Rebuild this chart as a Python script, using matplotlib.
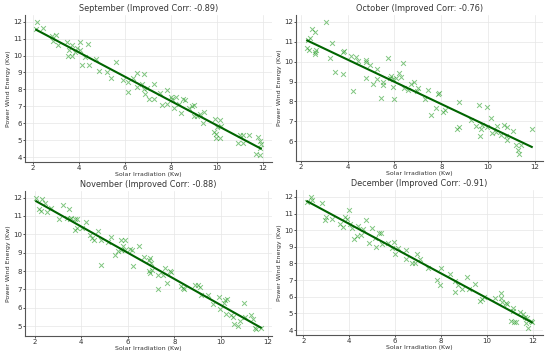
import numpy as np
import matplotlib
matplotlib.use("Agg")
import matplotlib.pyplot as plt

months = ["September", "October", "November", "December"]
corr_labels = ["-0.89", "-0.76", "-0.88", "-0.91"]

sep_x = [2.19, 2.16, 2.46, 2.83, 3.02, 2.9, 3.12, 3.5, 3.6, 3.7, 3.91, 4.08, 4.4, 3.55, 3.73, 3.84, 4.06,
         4.13, 4.45, 4.27, 4.77, 4.9, 5.22, 5.4, 5.64, 5.93, 6.12, 6.12, 6.36, 6.53, 6.55, 6.83, 6.75, 6.82,
         6.89, 6.96, 7.03, 7.25, 7.26, 7.55, 7.61, 7.83, 7.83, 7.99, 8.04, 8.13, 8.23, 8.37, 8.46, 8.51,
         8.63, 8.8, 8.92, 9.02, 8.99, 9.13, 9.28, 9.45, 9.4, 9.9, 10.13, 9.88, 9.95, 10.02, 9.95, 10.13,
         10.17, 10.9, 11.12, 11.12, 11.4, 11.7, 11.77, 11.85, 11.88, 11.86, 11.9, 11.0]
sep_y = [12.0, 11.55, 11.65, 11.15, 11.2, 10.85, 10.6, 10.8, 10.35, 10.6, 10.45, 10.8, 10.7, 9.98, 9.98, 10.2,
         10.3, 9.45, 9.45, 9.9, 9.8, 9.1, 9.0, 8.65, 9.6, 8.55, 8.45, 7.85, 8.65, 8.15, 8.95, 8.9, 8.3, 8.0,
         7.7, 8.1, 7.4, 7.4, 8.3, 7.8, 7.05, 7.95, 7.15, 7.55, 7.4, 6.9, 7.55, 7.15, 6.6, 7.4,
         7.35, 6.9, 7.0, 7.05, 6.4, 6.4, 6.55, 6.65, 6.0, 6.25, 6.2, 5.45, 5.35, 5.75, 5.15, 5.15,
         5.85, 4.85, 4.85, 5.3, 5.3, 4.15, 5.2, 4.95, 4.55, 4.1, 4.75, 5.3]

oct_x = [2.3, 2.28, 2.37, 2.4, 2.5, 2.6, 2.6, 2.63, 2.67, 3.08, 3.32, 3.25, 3.46, 3.81, 3.85, 3.81, 4.14,
         4.22, 4.38, 4.45, 4.77, 4.8, 4.77, 4.97, 5.09, 5.27, 5.26, 5.44, 5.51, 5.51, 5.72, 5.8, 5.87, 5.94,
         6.0, 5.94, 6.08, 6.2, 6.3, 6.36, 6.43, 6.57, 6.71, 6.82, 6.97, 7.02, 7.3, 7.42, 7.56, 7.78, 7.85,
         7.92, 8.06, 8.16, 8.65, 8.74, 8.77, 9.26, 9.49, 9.59, 9.66, 9.69, 9.73, 9.94, 9.97, 10.11, 10.18,
         10.32, 10.39, 10.56, 10.67, 10.82, 10.77, 11.08, 11.2, 11.27, 11.3, 11.38, 11.86, 10.79]
oct_y = [11.1, 10.7, 10.6, 11.2, 11.65, 11.5, 10.5, 10.4, 10.57, 12.0, 10.95, 10.2, 9.5, 10.5, 10.55, 9.4, 10.3,
         8.5, 10.25, 10.05, 10.1, 10.0, 9.2, 9.85, 8.9, 9.65, 9.15, 8.15, 9.0, 8.85, 10.2, 9.2, 9.3, 8.75,
         8.1, 9.15, 9.17, 9.42, 9.23, 9.95, 8.65, 8.55, 8.9, 9.0, 8.5, 8.65, 8.1, 8.55, 7.3, 7.65, 8.35,
         8.4, 7.45, 7.55, 6.6, 7.95, 6.73, 7.05, 6.77, 7.82, 6.27, 6.6, 6.8, 7.7, 6.7, 7.15, 6.4,
         6.45, 6.78, 6.3, 6.8, 6.72, 6.25, 6.5, 5.8, 5.58, 5.35, 5.8, 6.6, 6.05]

nov_x = [2.07, 2.21, 2.29, 2.31, 2.46, 2.53, 2.71, 3.03, 3.21, 3.46, 3.4, 3.5, 3.57, 3.74, 3.83, 3.74, 3.83,
         4.04, 4.21, 4.36, 4.46, 4.54, 4.71, 4.83, 4.86, 5.17, 5.26, 5.46, 5.6, 5.71, 5.69, 5.79, 5.89, 5.86,
         6.11, 6.17, 6.21, 6.5, 6.71, 6.9, 6.97, 6.9, 6.94, 7.04, 7.0, 7.29, 7.31, 7.53, 7.67, 7.6, 7.81,
         7.86, 8.29, 8.36, 8.43, 8.9, 9.0, 9.11, 9.14, 9.46, 9.66, 9.93, 9.97, 10.11, 10.17, 10.26, 10.21,
         10.43, 10.5, 10.57, 10.74, 10.81, 10.97, 11.04, 11.29, 11.36, 11.46, 11.5, 11.71]
nov_y = [12.0, 11.38, 11.27, 11.93, 11.7, 11.2, 11.45, 10.82, 11.6, 11.37, 10.88, 10.84, 10.88, 10.82, 10.84, 10.25, 10.37,
         10.34, 10.65, 9.97, 9.8, 9.7, 10.2, 9.67, 8.35, 9.58, 9.88, 8.85, 9.07, 9.16, 9.7, 9.34, 9.7, 9.16,
         9.22, 9.16, 8.3, 9.34, 8.74, 8.62, 8.7, 7.98, 7.9, 8.07, 8.44, 7.0, 7.77, 7.8, 7.35, 8.16, 8.0,
         7.93, 7.17, 7.08, 7.0, 7.26, 7.23, 7.14, 6.72, 6.67, 6.21, 6.58, 5.91, 6.27, 6.4, 6.45, 5.66,
         5.58, 5.5, 5.12, 5.03, 5.3, 6.27, 5.5, 5.6, 5.37, 4.88, 4.82, 4.9]

dec_x = [2.17, 2.33, 2.39, 2.82, 2.94, 3.01, 3.23, 3.59, 3.74, 3.81, 3.92, 3.98, 4.03, 4.14, 4.21, 4.36, 4.39,
         4.5, 4.6, 4.75, 4.85, 5.01, 5.14, 5.18, 5.29, 5.4, 5.43, 5.69, 5.86, 5.94, 6.01, 6.12, 6.46, 6.49,
         6.73, 6.85, 6.96, 7.09, 7.43, 7.82, 7.96, 8.01, 8.4, 8.6, 8.63, 8.73, 8.92, 9.14, 9.21, 9.5, 9.7,
         9.77, 9.88, 10.36, 10.61, 10.61, 10.65, 10.85, 10.9, 11.12, 11.16, 11.07, 11.19, 11.26, 11.45,
         11.59, 11.65, 11.69, 11.8, 11.77, 11.91, 11.96]
dec_y = [11.72, 12.02, 11.82, 11.66, 10.62, 10.8, 10.7, 10.36, 10.22, 10.8, 10.66, 11.22, 10.36, 10.16, 9.5, 9.66, 10.24,
         9.7, 10.06, 10.62, 9.22, 10.16, 9.56, 9.02, 9.86, 9.82, 9.16, 9.22, 8.96, 9.3, 8.6, 8.92, 8.8, 8.26,
         8.02, 8.0, 8.6, 8.3, 7.72, 7.02, 6.72, 7.7, 7.36, 6.26, 6.96, 6.72, 6.46, 7.16, 6.46, 6.76, 5.76,
         5.86, 5.96, 5.92, 6.2, 5.92, 5.66, 5.6, 5.56, 5.3, 5.16, 4.56, 4.5, 4.5, 5.06,
         4.96, 4.76, 4.42, 4.1, 4.7, 4.56, 4.5]

xs = [sep_x, oct_x, nov_x, dec_x]
ys = [sep_y, oct_y, nov_y, dec_y]

plt.rcParams['font.family'] = ['DejaVu Sans']

fig = plt.figure(figsize=(5.5, 3.56), dpi=100)
W, H = 550, 356
boxes = [(25, 15, 272, 162), (296, 15, 543, 161), (25, 191, 272, 336), (296, 190, 543, 335)]

for i, (l, t, r, b) in enumerate(boxes):
    ax = fig.add_axes([l / W, 1 - b / H, (r - l) / W, (b - t) / H])
    x = np.array(xs[i]); y = np.array(ys[i])
    ax.scatter(x, y, marker='x', color='#2ca02c', alpha=0.6, s=12, linewidths=0.7, zorder=2)
    m, c = np.polyfit(x, y, 1)
    xl = np.array([x.min(), x.max()])
    ax.plot(xl, m * xl + c, color='darkgreen', lw=1.5, zorder=3)
    ax.set_title(f"{months[i]} (Improved Corr: {corr_labels[i]})", fontsize=5.9, color='#333333', pad=3)
    ax.set_xlabel("Solar Irradiation (Kw)", fontsize=4.5, color='#333333', labelpad=0.5)
    ax.set_ylabel("Power Wind Energy (Kw)", fontsize=4.5, color='#333333', labelpad=1.5)
    ax.set_xticks([2, 4, 6, 8, 10, 12])
    ax.tick_params(labelsize=5, colors='#333333', length=1.5, width=0.6, pad=0.8)
    ax.grid(True, color='#e6e6e6', lw=0.5)
    ax.set_axisbelow(True)
    for s in ['top', 'right']:
        ax.spines[s].set_visible(False)
    for s in ['left', 'bottom']:
        ax.spines[s].set_color('#555555')
        ax.spines[s].set_linewidth(0.8)

fig.savefig("out.png", dpi=100)
